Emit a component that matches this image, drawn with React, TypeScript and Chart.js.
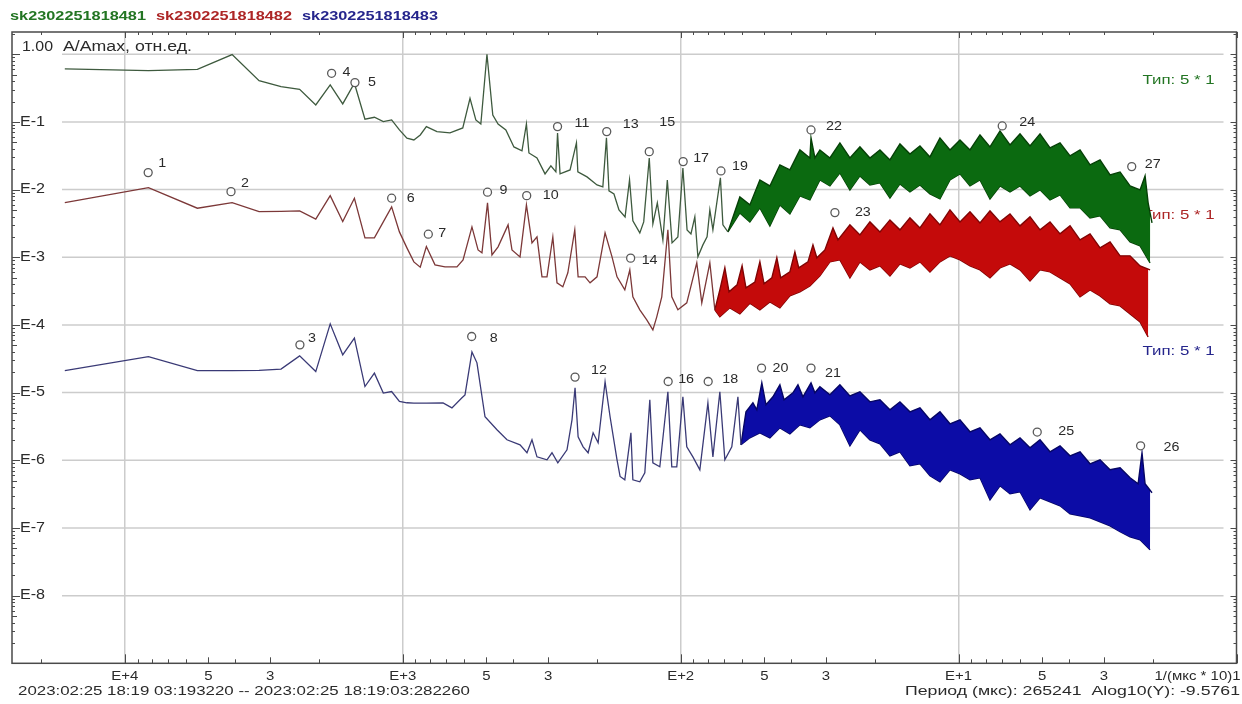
import React, { useEffect, useRef } from 'react';
import { Chart, registerables } from 'chart.js';

Chart.register(...registerables);

// ---- Data: every point is [log10(period), log10(A/Amax)] ----

const seriesNames = ['sk2302251818481', 'sk2302251818482', 'sk2302251818483'];
const seriesType = 'Тип: 5 * 1';

// sk…481: single-line part of the spectrum
const greenTrace: [number, number][] = [
  [4.216, -0.217], [3.915, -0.242], [3.739, -0.222], [3.614, -0.005], [3.517, -0.390], [3.438, -0.479],
  [3.371, -0.517], [3.313, -0.749], [3.261, -0.453], [3.216, -0.734], [3.174, -0.428], [3.136, -0.960],
  [3.102, -0.931], [3.070, -0.996], [3.040, -0.970], [3.012, -1.118], [2.985, -1.241], [2.960, -1.266],
  [2.937, -1.192], [2.915, -1.069], [2.877, -1.143], [2.830, -1.162], [2.784, -1.089], [2.758, -0.650],
  [2.737, -0.970], [2.719, -1.030], [2.697, 0.0], [2.676, -0.897], [2.657, -1.030], [2.629, -1.118],
  [2.600, -1.369], [2.571, -1.428], [2.555, -1.030], [2.546, -1.458], [2.517, -1.532], [2.488, -1.768],
  [2.467, -1.650], [2.449, -1.738], [2.443, -1.163], [2.434, -1.768], [2.398, -1.709], [2.375, -1.310],
  [2.370, -1.738], [2.337, -1.812], [2.301, -1.931], [2.280, -1.960], [2.267, -1.236], [2.258, -2.019],
  [2.240, -2.064], [2.222, -2.300], [2.200, -2.403], [2.184, -1.857], [2.172, -2.462], [2.147, -2.640],
  [2.133, -2.477], [2.113, -1.532], [2.100, -2.507], [2.084, -2.196], [2.064, -2.743], [2.048, -1.857],
  [2.031, -2.787], [2.010, -2.699], [1.992, -1.680], [1.977, -2.595], [1.963, -2.654], [1.949, -2.403],
  [1.938, -2.994], [1.920, -2.817], [1.905, -2.699], [1.895, -2.300], [1.884, -2.595], [1.857, -1.827],
  [1.848, -2.521], [1.830, -2.625],
];
// sk…481: dense high-frequency part, upper and lower envelope
const greenUpper: [number, number][] = [
  [1.830, -2.625], [1.787, -2.108], [1.751, -2.226], [1.715, -1.857], [1.679, -1.946], [1.643, -1.635],
  [1.607, -1.709], [1.571, -1.414], [1.535, -1.532], [1.531, -1.236], [1.517, -1.532], [1.499, -1.414],
  [1.463, -1.532], [1.427, -1.310], [1.391, -1.532], [1.355, -1.369], [1.319, -1.532], [1.283, -1.414],
  [1.247, -1.561], [1.211, -1.325], [1.175, -1.473], [1.139, -1.355], [1.103, -1.517], [1.067, -1.236],
  [1.031, -1.414], [0.995, -1.266], [0.959, -1.414], [0.923, -1.192], [0.887, -1.369], [0.851, -1.133],
  [0.815, -1.340], [0.779, -1.177], [0.743, -1.355], [0.707, -1.177], [0.671, -1.384], [0.635, -1.310],
  [0.599, -1.502], [0.563, -1.414], [0.527, -1.635], [0.491, -1.561], [0.455, -1.783], [0.419, -1.739],
  [0.383, -1.946], [0.347, -2.004], [0.329, -1.798], [0.318, -2.196], [0.304, -2.492],
];
const greenLower: [number, number][] = [
  [1.830, -2.625], [1.787, -2.344], [1.751, -2.477], [1.715, -2.270], [1.679, -2.536], [1.643, -2.226],
  [1.607, -2.359], [1.571, -2.093], [1.535, -2.152], [1.499, -1.857], [1.463, -1.946], [1.427, -1.753],
  [1.391, -2.004], [1.355, -1.798], [1.319, -1.931], [1.283, -1.901], [1.247, -2.123], [1.211, -1.916],
  [1.175, -2.034], [1.139, -1.931], [1.103, -2.063], [1.067, -2.137], [1.031, -1.857], [0.995, -1.768],
  [0.959, -1.946], [0.923, -1.857], [0.887, -2.137], [0.851, -1.946], [0.815, -2.034], [0.779, -1.946],
  [0.743, -2.093], [0.707, -2.004], [0.671, -2.152], [0.635, -2.078], [0.599, -2.270], [0.563, -2.270],
  [0.527, -2.418], [0.491, -2.388], [0.455, -2.565], [0.419, -2.595], [0.383, -2.772], [0.347, -2.831],
  [0.311, -3.083],
];

// sk…482
const redTrace: [number, number][] = [
  [4.216, -2.192], [3.915, -1.970], [3.739, -2.275], [3.614, -2.192], [3.517, -2.325], [3.438, -2.322],
  [3.371, -2.315], [3.313, -2.437], [3.261, -2.089], [3.216, -2.473], [3.174, -2.128], [3.136, -2.713],
  [3.102, -2.713], [3.070, -2.477], [3.040, -2.256], [3.012, -2.625], [2.985, -2.861], [2.960, -3.068],
  [2.937, -3.146], [2.915, -2.842], [2.884, -3.112], [2.848, -3.142], [2.805, -3.142], [2.783, -3.038],
  [2.751, -2.551], [2.729, -2.891], [2.715, -2.935], [2.695, -2.196], [2.679, -2.965], [2.657, -2.846],
  [2.621, -2.521], [2.607, -2.891], [2.578, -2.994], [2.555, -2.226], [2.535, -2.787], [2.517, -2.699],
  [2.499, -3.289], [2.481, -3.289], [2.460, -2.699], [2.445, -3.378], [2.424, -3.437], [2.406, -3.230],
  [2.381, -2.595], [2.369, -3.289], [2.344, -3.289], [2.326, -3.378], [2.301, -3.289], [2.272, -2.640],
  [2.247, -2.994], [2.229, -3.289], [2.201, -3.482], [2.183, -3.186], [2.172, -3.585], [2.147, -3.777],
  [2.122, -3.925], [2.100, -4.072], [2.086, -3.880], [2.068, -3.585], [2.046, -2.595], [2.032, -3.585],
  [2.010, -3.777], [1.978, -3.674], [1.942, -3.083], [1.924, -3.674], [1.895, -3.083], [1.877, -3.777],
];
const redUpper: [number, number][] = [
  [1.877, -3.777], [1.859, -3.482], [1.841, -3.157], [1.826, -3.511], [1.797, -3.408], [1.779, -3.127],
  [1.765, -3.452], [1.733, -3.367], [1.715, -3.068], [1.700, -3.393], [1.672, -3.304], [1.654, -3.008],
  [1.640, -3.304], [1.607, -3.216], [1.589, -2.920], [1.575, -3.157], [1.542, -3.068], [1.524, -2.817],
  [1.510, -3.008], [1.481, -2.891], [1.452, -2.566], [1.434, -2.743], [1.391, -2.521], [1.355, -2.669],
  [1.319, -2.477], [1.283, -2.625], [1.247, -2.448], [1.211, -2.595], [1.175, -2.418], [1.139, -2.566],
  [1.103, -2.359], [1.067, -2.521], [1.031, -2.300], [0.995, -2.477], [0.959, -2.329], [0.923, -2.492],
  [0.887, -2.315], [0.851, -2.477], [0.815, -2.359], [0.779, -2.536], [0.743, -2.403], [0.707, -2.595],
  [0.671, -2.477], [0.635, -2.654], [0.599, -2.536], [0.563, -2.743], [0.527, -2.654], [0.491, -2.861],
  [0.455, -2.772], [0.419, -2.979], [0.383, -2.979], [0.347, -3.127], [0.311, -3.186],
];
const redLower: [number, number][] = [
  [1.877, -3.777], [1.859, -3.880], [1.823, -3.747], [1.787, -3.836], [1.751, -3.678], [1.715, -3.777],
  [1.679, -3.659], [1.643, -3.747], [1.607, -3.570], [1.571, -3.511], [1.535, -3.423], [1.499, -3.275],
  [1.463, -3.068], [1.427, -3.038], [1.391, -3.304], [1.355, -3.068], [1.319, -3.186], [1.283, -3.127],
  [1.247, -3.275], [1.211, -3.097], [1.175, -3.157], [1.139, -3.068], [1.103, -3.216], [1.067, -3.068],
  [1.031, -2.979], [0.995, -3.038], [0.959, -3.127], [0.923, -3.186], [0.887, -3.304], [0.851, -3.157],
  [0.815, -3.097], [0.779, -3.186], [0.743, -3.349], [0.707, -3.186], [0.671, -3.216], [0.635, -3.304],
  [0.599, -3.393], [0.563, -3.585], [0.527, -3.482], [0.491, -3.570], [0.455, -3.688], [0.419, -3.718],
  [0.383, -3.836], [0.347, -3.954], [0.318, -4.176],
];

// sk…483
const blueTrace: [number, number][] = [
  [4.216, -4.674], [3.915, -4.467], [3.739, -4.674], [3.614, -4.674], [3.517, -4.670], [3.438, -4.653],
  [3.371, -4.457], [3.313, -4.689], [3.261, -3.984], [3.216, -4.442], [3.174, -4.195], [3.136, -4.910],
  [3.102, -4.712], [3.070, -5.007], [3.040, -4.984], [3.012, -5.131], [2.985, -5.150], [2.960, -5.156],
  [2.937, -5.156], [2.915, -5.156], [2.855, -5.151], [2.823, -5.225], [2.787, -5.077], [2.776, -5.033],
  [2.751, -4.398], [2.733, -4.560], [2.704, -5.357], [2.661, -5.549], [2.625, -5.697], [2.578, -5.771],
  [2.553, -5.889], [2.535, -5.697], [2.517, -5.949], [2.481, -5.993], [2.463, -5.889], [2.442, -6.037],
  [2.409, -5.845], [2.391, -5.402], [2.380, -4.929], [2.369, -5.653], [2.351, -5.801], [2.333, -5.889],
  [2.315, -5.594], [2.297, -5.741], [2.272, -4.841], [2.254, -5.357], [2.229, -5.993], [2.218, -6.239],
  [2.201, -6.288], [2.179, -5.594], [2.172, -6.288], [2.147, -6.318], [2.129, -6.185], [2.111, -5.106],
  [2.100, -6.037], [2.075, -6.096], [2.046, -4.988], [2.032, -6.096], [2.014, -6.096], [1.992, -5.062],
  [1.978, -5.801], [1.956, -5.949], [1.931, -6.140], [1.902, -5.151], [1.884, -5.949], [1.859, -4.988],
  [1.841, -5.993], [1.816, -5.801], [1.794, -5.062], [1.783, -5.771],
];
const blueUpper: [number, number][] = [
  [1.783, -5.771], [1.765, -5.284], [1.740, -5.151], [1.726, -5.254], [1.708, -4.855], [1.693, -5.180],
  [1.668, -5.062], [1.643, -4.885], [1.628, -5.106], [1.596, -5.003], [1.578, -4.885], [1.560, -5.062],
  [1.531, -4.855], [1.517, -5.003], [1.499, -4.914], [1.463, -5.033], [1.427, -4.885], [1.391, -5.048],
  [1.355, -4.989], [1.319, -5.136], [1.283, -5.106], [1.247, -5.254], [1.211, -5.136], [1.175, -5.284],
  [1.139, -5.225], [1.103, -5.402], [1.067, -5.284], [1.031, -5.461], [0.995, -5.402], [0.959, -5.579],
  [0.923, -5.520], [0.887, -5.697], [0.851, -5.609], [0.815, -5.771], [0.779, -5.668], [0.743, -5.816],
  [0.707, -5.697], [0.671, -5.874], [0.635, -5.786], [0.599, -5.934], [0.563, -5.874], [0.527, -6.052],
  [0.491, -5.993], [0.455, -6.140], [0.419, -6.111], [0.383, -6.259], [0.354, -6.347], [0.340, -5.889],
  [0.329, -6.347], [0.304, -6.480],
];
const blueLower: [number, number][] = [
  [1.783, -5.771], [1.751, -5.668], [1.715, -5.594], [1.679, -5.668], [1.643, -5.520], [1.607, -5.609],
  [1.571, -5.476], [1.535, -5.520], [1.499, -5.402], [1.463, -5.343], [1.427, -5.476], [1.391, -5.786],
  [1.355, -5.549], [1.319, -5.697], [1.283, -5.757], [1.247, -5.934], [1.211, -5.874], [1.175, -6.081],
  [1.139, -6.052], [1.103, -6.229], [1.067, -6.318], [1.031, -6.140], [0.995, -6.200], [0.959, -6.288],
  [0.923, -6.259], [0.887, -6.583], [0.851, -6.377], [0.815, -6.495], [0.779, -6.465], [0.743, -6.731],
  [0.707, -6.554], [0.671, -6.613], [0.635, -6.672], [0.599, -6.790], [0.563, -6.820], [0.527, -6.849],
  [0.491, -6.908], [0.455, -6.968], [0.419, -7.056], [0.383, -7.130], [0.347, -7.174], [0.311, -7.322],
];

// Numbered peak markers
const markerLabels = ['1', '2', '3', '4', '5', '6', '7', '8', '9', '10', '11', '12', '13', '14', '15', '16', '17', '18', '19', '20', '21', '22', '23', '24', '25', '26', '27'];
const markerLgPeriod = [3.916, 3.618, 3.370, 3.256, 3.172, 3.040, 2.908, 2.752, 2.695, 2.554, 2.443, 2.380, 2.266, 2.180, 2.113, 2.045, 1.991, 1.901, 1.855, 1.709, 1.531, 1.531, 1.445, 0.843, 0.717, 0.345, 0.377];
const markerLgAmp = [-1.749, -2.030, -4.294, -0.281, -0.419, -2.127, -2.659, -4.171, -2.038, -2.089, -1.069, -4.771, -1.143, -3.013, -1.439, -4.836, -1.586, -4.836, -1.724, -4.638, -4.638, -1.118, -2.340, -1.059, -5.583, -5.786, -1.660];

// Axis ticks
const xTickValues = [10000, 5000, 3000, 1000, 500, 300, 100, 50, 30, 10, 5, 3, 1];
const xTickLabels = ['E+4', '5', '3', 'E+3', '5', '3', 'E+2', '5', '3', 'E+1', '5', '3', '1/(мкс * 10)1'];
const xGridValues = [10000, 1000, 100, 10];
const yTickValues = [1e-1, 1e-2, 1e-3, 1e-4, 1e-5, 1e-6, 1e-7, 1e-8];
const yTickLabels = ['E-1', 'E-2', 'E-3', 'E-4', 'E-5', 'E-6', 'E-7', 'E-8'];
const yGridValues = [1, 1e-1, 1e-2, 1e-3, 1e-4, 1e-5, 1e-6, 1e-7, 1e-8];

const axisTitle = ['1.00', 'A/Amax, отн.ед.'];
const footerLeft = '2023:02:25 18:19 03:193220 -- 2023:02:25 18:19:03:282260';
const footerRight = 'Период (мкс): 265241  Alog10(Y): -9.5761';

// ---- Styles ----
const X_MIN = 1;
const X_MAX = Math.pow(10, 4.406);
const Y_MIN = 1e-9;
const Y_MAX = Math.pow(10, 0.329);
const FONT = '"Liberation Sans", Arial, sans-serif';
const TEXT = '#2a2a2a';
const FRAME = '#4a4a4a';
const GRID = '#cccccc';

const palette = [
  { text: '#237523', line: '#3e5a3e', fill: '#0b6a10', edge: '#054006' },
  { text: '#ad2626', line: '#7c3838', fill: '#c40a0a', edge: '#800404' },
  { text: '#25258c', line: '#3a3a76', fill: '#0c0ca6', edge: '#060664' },
];
const typeLabelY = [48, 183, 319]; // offsets from the top of the plot area

// label offsets for marker numbers: [dx of left edge, dy of centre]
const markerLabelShift: [number, number][] = [
  [10, -9], [10, -8], [8, -6], [11, -1], [13, 0], [15, 0], [10, -1], [18, 2], [12, -2], [16, 0],
  [17, -3], [16, -7], [16, -7], [11, 2], [10, -29], [10, -2], [10, -3], [14, -2], [11, -5], [11, 0],
  [14, 5], [15, -3], [20, 0], [17, -4], [21, -1], [23, 2], [13, -2],
];

const toPoints = (pairs: [number, number][]) =>
  pairs.map(([p, a]) => ({ x: Math.pow(10, p), y: Math.pow(10, a) }));

function drawStretched(
  ctx: CanvasRenderingContext2D,
  text: string,
  x: number,
  y: number,
  opts: { width?: number; sx?: number; align?: 'left' | 'right' | 'center' }
) {
  const w = ctx.measureText(text).width;
  const sx = opts.width ? opts.width / w : opts.sx ?? 1;
  const tw = w * sx;
  let x0 = x;
  if (opts.align === 'right') x0 = x - tw;
  else if (opts.align === 'center') x0 = x - tw / 2;
  ctx.save();
  ctx.translate(x0, y);
  ctx.scale(sx, 1);
  ctx.textAlign = 'left';
  ctx.textBaseline = 'middle';
  ctx.fillText(text, 0, 0);
  ctx.restore();
}

const decorPlugin = {
  id: 'decor',
  beforeDatasetsDraw(chart: any) {
    const { ctx, chartArea: a, scales } = chart;
    const ys = scales.y;
    ctx.save();
    // horizontal decade grid
    ctx.strokeStyle = GRID;
    ctx.lineWidth = 1.5;
    for (const v of yGridValues) {
      const py = ys.getPixelForValue(v);
      ctx.beginPath();
      ctx.moveTo(a.left + 50, py);
      ctx.lineTo(a.right - 13, py);
      ctx.stroke();
    }
    // per-series type labels (under the data)
    ctx.font = `13px ${FONT}`;
    palette.forEach((p, i) => {
      ctx.fillStyle = p.text;
      drawStretched(ctx, seriesType, a.right - 94, a.top + typeLabelY[i], { width: 72 });
    });
    ctx.restore();
  },
  afterDatasetsDraw(chart: any) {
    const { ctx, chartArea: a, scales } = chart;
    const xs = scales.x;
    const ys = scales.y;
    ctx.save();

    // frame
    ctx.strokeStyle = FRAME;
    ctx.lineWidth = 1.5;
    ctx.strokeRect(a.left, a.top, a.right - a.left, a.bottom - a.top);

    // inward log ticks on all four sides
    ctx.lineWidth = 1;
    const seg = (x1: number, y1: number, x2: number, y2: number) => {
      ctx.beginPath();
      ctx.moveTo(x1, y1);
      ctx.lineTo(x2, y2);
      ctx.stroke();
    };
    for (let d = 0; d <= 4; d++) {
      for (let m = 1; m <= 9; m++) {
        const v = m * Math.pow(10, d);
        if (v < X_MIN || v > X_MAX) continue;
        const px = Math.round(xs.getPixelForValue(v)) + 0.5;
        const len = m === 1 ? 9 : m === 5 || m === 3 ? 6 : 4;
        seg(px, a.bottom, px, a.bottom - len);
        seg(px, a.top, px, a.top + (m === 1 ? 6 : 3));
      }
    }
    for (let d = -9; d <= 0; d++) {
      for (let m = 1; m <= 9; m++) {
        const v = m * Math.pow(10, d);
        if (v < Y_MIN || v > Y_MAX) continue;
        const py = Math.round(ys.getPixelForValue(v)) + 0.5;
        const len = m === 1 ? 8 : m === 5 ? 5 : 3;
        seg(a.left, py, a.left + len, py);
        seg(a.right, py, a.right - (m === 1 ? 6 : 3), py);
      }
    }

    ctx.fillStyle = TEXT;
    // y tick labels inside the plot
    ctx.font = `14px ${FONT}`;
    yTickValues.forEach((v, i) => {
      drawStretched(ctx, yTickLabels[i], a.left + 8, ys.getPixelForValue(v), { sx: 1.15 });
    });
    // axis title
    drawStretched(ctx, axisTitle[0], a.left + 10, 47, { width: 31 });
    drawStretched(ctx, axisTitle[1], a.left + 51, 47, { width: 129 });

    // x tick labels
    ctx.font = `13px ${FONT}`;
    xTickValues.forEach((v, i) => {
      const px = xs.getPixelForValue(v);
      const last = i === xTickValues.length - 1;
      drawStretched(ctx, xTickLabels[i], last ? px + 4 : px, a.bottom + 13, {
        sx: 1.15,
        align: last ? 'right' : 'center',
      });
    });

    // footer lines
    drawStretched(ctx, footerLeft, 18, a.bottom + 28, { width: 452 });
    drawStretched(ctx, footerRight, 1240, a.bottom + 28, { width: 335, align: 'right' });

    // series names above the plot
    ctx.font = `bold 12px ${FONT}`;
    seriesNames.forEach((name, i) => {
      ctx.fillStyle = palette[i].text;
      drawStretched(ctx, name, 10 + i * 146, 17, { width: 136 });
    });

    // marker numbers
    const meta = chart.getDatasetMeta(chart.data.datasets.length - 1);
    ctx.fillStyle = TEXT;
    ctx.font = `13px ${FONT}`;
    meta.data.forEach((pt: any, i: number) => {
      const [dx, dy] = markerLabelShift[i];
      drawStretched(ctx, markerLabels[i], pt.x + dx, pt.y + dy, { sx: 1.1 });
    });

    ctx.restore();
  },
};

export default function App() {
  const canvasRef = useRef<HTMLCanvasElement | null>(null);

  useEffect(() => {
    const canvas = canvasRef.current;
    if (!canvas) return;

    const traces = [greenTrace, redTrace, blueTrace];
    const uppers = [greenUpper, redUpper, blueUpper];
    const lowers = [greenLower, redLower, blueLower];

    const datasets: any[] = [];
    traces.forEach((tr, i) => {
      const p = palette[i];
      datasets.push({
        type: 'line',
        label: seriesNames[i],
        data: toPoints(tr),
        borderColor: p.line,
        borderWidth: 1.3,
        pointRadius: 0,
        fill: false,
        order: 1,
      });
      datasets.push({
        type: 'line',
        label: seriesNames[i] + ' max',
        data: toPoints(uppers[i]),
        borderColor: p.edge,
        backgroundColor: p.fill,
        borderWidth: 1.4,
        pointRadius: 0,
        fill: '+1',
        order: 2,
      });
      datasets.push({
        type: 'line',
        label: seriesNames[i] + ' min',
        data: toPoints(lowers[i]),
        borderColor: p.edge,
        borderWidth: 1.4,
        pointRadius: 0,
        fill: false,
        order: 2,
      });
    });
    datasets.push({
      type: 'scatter',
      label: 'markers',
      data: markerLgPeriod.map((p, i) => ({ x: Math.pow(10, p), y: Math.pow(10, markerLgAmp[i]) })),
      pointRadius: 4,
      pointBorderWidth: 1.3,
      pointBorderColor: '#5a5a5a',
      pointBackgroundColor: '#ffffff',
      showLine: false,
      order: 0,
    });

    const chart = new Chart(canvas, {
      type: 'line',
      data: { datasets },
      options: {
        animation: false,
        responsive: false,
        devicePixelRatio: 1,
        events: [],
        layout: { padding: { left: 12, right: 5.5, top: 32, bottom: 0 } },
        elements: { line: { tension: 0 }, point: { radius: 0 } },
        plugins: {
          legend: { display: false },
          tooltip: { enabled: false },
          filler: { propagate: false },
        },
        scales: {
          x: {
            type: 'logarithmic',
            reverse: true,
            min: X_MIN,
            max: X_MAX,
            ticks: { display: false },
            border: { display: false },
            grid: { color: GRID, lineWidth: 1.5, drawTicks: false },
            afterBuildTicks: (s: any) => {
              s.ticks = xGridValues.map((v) => ({ value: v }));
            },
            afterFit: (s: any) => {
              s.height = 40.7;
            },
          },
          y: {
            type: 'logarithmic',
            display: false,
            min: Y_MIN,
            max: Y_MAX,
          },
        },
      } as any,
      plugins: [decorPlugin],
    });

    return () => chart.destroy();
  }, []);

  return (
    <div style={{ position: 'fixed', left: 0, top: 0, width: 1242, height: 704, background: '#ffffff' }}>
      <canvas ref={canvasRef} width={1242} height={704} style={{ display: 'block' }} />
    </div>
  );
}
